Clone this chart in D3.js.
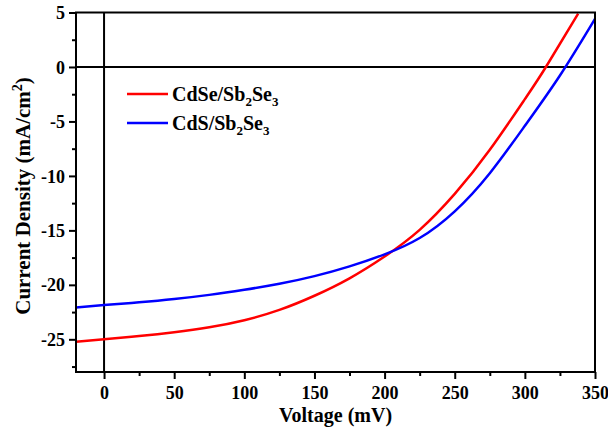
<!DOCTYPE html>
<html>
<head>
<meta charset="utf-8">
<script src="https://cdn.jsdelivr.net/npm/d3@7"></script>
<style>
  html, body { margin: 0; padding: 0; background: #fff; }
  svg { display: block; }
  text { font-family: "Liberation Serif", "Times New Roman", serif; font-weight: bold; fill: #000; }
</style>
</head>
<body>
<svg id="chart" width="608" height="432"></svg>
<script>
// ---- data ----
const voltageCdSe = [-20, 0, 25, 50, 75, 100, 125, 150, 175, 200, 225, 250, 275, 300, 315, 338];
const currentCdSe = [-25.22, -25.0, -24.7, -24.35, -23.9, -23.25, -22.3, -21.0, -19.4, -17.4, -14.95, -11.65, -7.6, -2.95, 0, 4.9];

const voltageCdS = [-20, 0, 25, 50, 75, 100, 125, 150, 175, 200, 225, 250, 275, 300, 325, 350];
const currentCdS = [-22.07, -21.86, -21.6, -21.3, -20.92, -20.45, -19.9, -19.2, -18.3, -17.2, -15.7, -13.25, -9.75, -5.4, -0.78, 4.42];

const seriesNames = ["CdSe/Sb", "CdS/Sb"]; // legend base text, subscripts added below
const seriesColors = ["#ff0000", "#0000ff"];

const xMajorTicks = [0, 50, 100, 150, 200, 250, 300, 350];
const xMinorTicks = [25, 75, 125, 175, 225, 275, 325];
const yMajorTicks = [5, 0, -5, -10, -15, -20, -25];
const yMinorTicks = [2.5, -2.5, -7.5, -12.5, -17.5, -22.5, -27.5];

// ---- layout ----
const L = 76, R = 595, T = 12.5, B = 372;
const svg = d3.select("#chart");
const x = d3.scaleLinear().domain([-20, 350]).range([L, R]);
const y = d3.scaleLinear().domain([-28, 5]).range([B, T]);
const fmt = d => String(d);

// reference lines at V=0 and J=0
svg.append("line").attr("x1", x(0)).attr("x2", x(0)).attr("y1", T).attr("y2", B)
  .attr("stroke", "#000").attr("stroke-width", 2);
svg.append("line").attr("x1", L).attr("x2", R).attr("y1", y(0)).attr("y2", y(0))
  .attr("stroke", "#000").attr("stroke-width", 2);

// curves
const line = d3.line().x(d => x(d[0])).y(d => y(d[1])).curve(d3.curveNatural);
const series = [
  voltageCdSe.map((v, i) => [v, currentCdSe[i]]),
  voltageCdS.map((v, i) => [v, currentCdS[i]])
];
svg.append("defs").append("clipPath").attr("id", "clip")
  .append("rect").attr("x", L).attr("y", T).attr("width", R - L).attr("height", B - T);
series.forEach((s, i) => {
  svg.append("path").datum(s).attr("d", line)
    .attr("fill", "none").attr("stroke", seriesColors[i]).attr("stroke-width", 2.5)
    .attr("clip-path", "url(#clip)");
});

// frame
svg.append("rect").attr("x", L).attr("y", T).attr("width", R - L).attr("height", B - T)
  .attr("fill", "none").attr("stroke", "#000").attr("stroke-width", 2);

// axes
function styleAxis(g) {
  g.select(".domain").remove();
  g.selectAll(".tick line").attr("stroke", "#000").attr("stroke-width", 2);
}
const xMaj = svg.append("g").attr("transform", `translate(0,${B})`)
  .call(d3.axisBottom(x).tickValues(xMajorTicks).tickSize(7).tickSizeOuter(0).tickFormat(fmt));
styleAxis(xMaj);
xMaj.selectAll(".tick text").attr("y", 14).attr("dy", "0.71em")
  .style("font-size", "18px").style("font-family", "'Liberation Serif', serif").style("font-weight", "bold").attr("fill", "#000");
const xMin = svg.append("g").attr("transform", `translate(0,${B})`)
  .call(d3.axisBottom(x).tickValues(xMinorTicks).tickSize(4).tickSizeOuter(0).tickFormat(""));
styleAxis(xMin);

const yMaj = svg.append("g").attr("transform", `translate(${L},0)`)
  .call(d3.axisLeft(y).tickValues(yMajorTicks).tickSize(7).tickSizeOuter(0).tickFormat(fmt));
styleAxis(yMaj);
yMaj.selectAll(".tick text").attr("x", -11).attr("dy", "0.34em")
  .style("font-size", "18px").style("font-family", "'Liberation Serif', serif").style("font-weight", "bold").attr("fill", "#000");
const yMin = svg.append("g").attr("transform", `translate(${L},0)`)
  .call(d3.axisLeft(y).tickValues(yMinorTicks).tickSize(4).tickSizeOuter(0).tickFormat(""));
styleAxis(yMin);

// axis titles
svg.append("text").attr("x", (L + R) / 2).attr("y", 422).attr("text-anchor", "middle")
  .style("font-size", "20px").text("Voltage (mV)");
const yt = svg.append("text").attr("transform", `translate(30,${196}) rotate(-90)`)
  .attr("text-anchor", "middle").style("font-size", "21px");
yt.append("tspan").text("Current Density (mA/cm");
yt.append("tspan").attr("dy", -8).style("font-size", "14px").text("2");
yt.append("tspan").attr("dy", 8).text(")");

// legend
const legY = [94, 123];
seriesNames.forEach((name, i) => {
  svg.append("line").attr("x1", 127).attr("x2", 168).attr("y1", legY[i]).attr("y2", legY[i])
    .attr("stroke", seriesColors[i]).attr("stroke-width", 2.5);
  const t = svg.append("text").attr("x", 172).attr("y", legY[i] + 7).style("font-size", "20px");
  t.append("tspan").text(name);
  t.append("tspan").attr("dy", 5).style("font-size", "13px").text("2");
  t.append("tspan").attr("dy", -5).text("Se");
  t.append("tspan").attr("dy", 5).style("font-size", "13px").text("3");
});
</script>
</body>
</html>
